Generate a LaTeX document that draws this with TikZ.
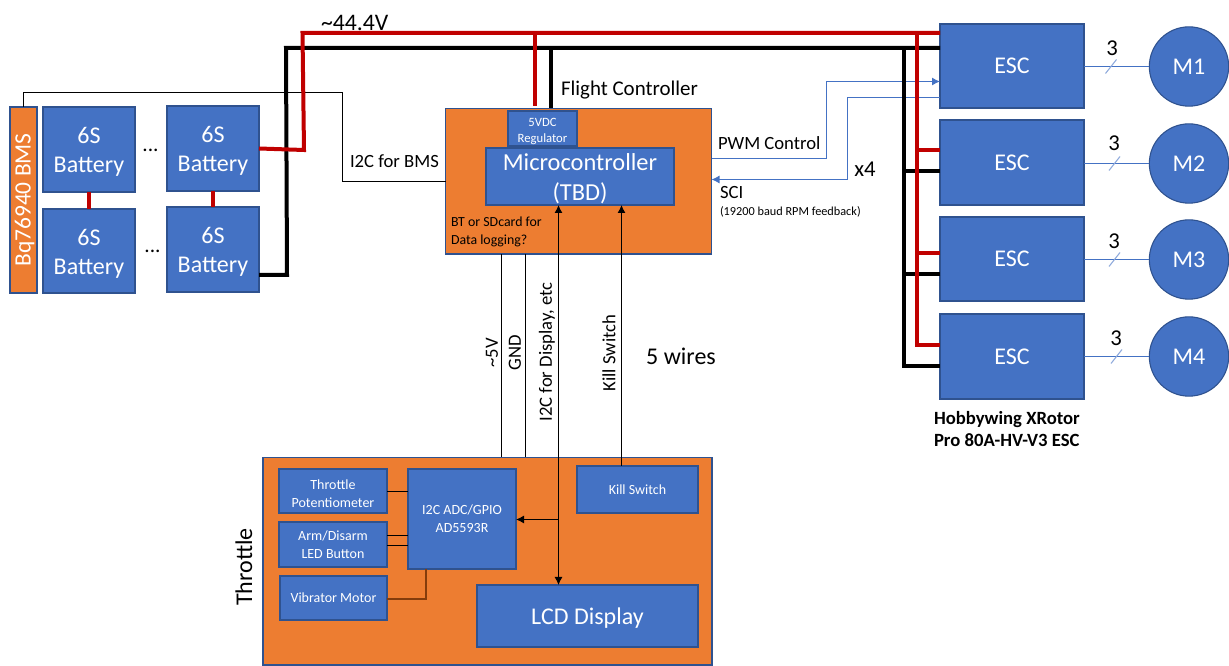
\documentclass[tikz,border=0pt]{standalone}
\usepackage{fontspec}
\setmainfont{Carlito}
\usetikzlibrary{arrows.meta,calc}
\definecolor{fillblue}{HTML}{4472C4}
\definecolor{edgeblue}{HTML}{2F528F}
\definecolor{fillorange}{HTML}{ED7D31}
\definecolor{wirered}{HTML}{C00000}
\definecolor{slashblue}{HTML}{8FAADC}
\definecolor{brownwire}{HTML}{843C0C}
\newcommand{\bx}[7][]{%
  \node[#2,#1,minimum width={(#5-#3)*0.75pt},minimum height={(#6-#4)*0.75pt}] (#7) at ({(#3+#5)/2},{(#4+#6)/2})}
\newcommand{\lw}[1]{\rule{0pt}{#1}}
\tikzset{
  bluebox/.style={draw=edgeblue,fill=fillblue,text=white,line width=0.8pt,inner sep=0pt,outer sep=0pt,align=center,font=\fontsize{18}{22}\selectfont},
  orangebox/.style={draw=edgeblue,fill=fillorange,line width=0.8pt,inner sep=0pt,outer sep=0pt,align=center},
  motor/.style={circle,draw=edgeblue,fill=fillblue,text=white,line width=0.8pt,inner sep=0pt,outer sep=0pt,minimum size=59.5pt,font=\fontsize{18}{22}\selectfont},
  smallbox/.style={font=\fontsize{10.5}{13.5}\selectfont},
  lbl/.style={inner sep=0pt,outer sep=0pt,align=left},
  power/.style={line width=3pt,line join=miter},
  redwire/.style={power,draw=wirered},
  blackwire/.style={power,draw=black},
  thinwire/.style={draw=black,line width=0.8pt},
  sigblue/.style={draw=fillblue,line width=0.8pt},
  tip/.style={-{Latex[length=6pt,width=6pt]}},
  bothtip/.style={{Latex[length=6pt,width=6pt]}-{Latex[length=6pt,width=6pt]}},
  slash/.style={draw=slashblue,line width=0.8pt},
}
\begin{document}
\begin{tikzpicture}[x=0.75pt,y=-0.75pt]
\useasboundingbox (0,0) rectangle (1229,666);
\fill[white] (0,0) rectangle (1229,666);

% containers
\bx{orangebox}{445.5}{108.5}{711.5}{254}{fc} {};
\bx{orangebox}{263}{457.5}{712}{665}{thr} {};
\bx{orangebox}{10}{107}{37}{293}{bms} {};
\node[rotate=90,text=white,inner sep=0pt,font=\fontsize{17.6}{21}\selectfont] (bmstxt) at (24.5,200) {Bq76940 BMS};

% batteries
\bx{bluebox}{43}{107}{135}{192}{b1} {\lw{16pt}6S\\Battery};
\bx{bluebox}{43}{209}{135}{293}{b2} {\lw{16pt}6S\\Battery};
\bx{bluebox}{167}{106}{259}{191}{b3} {\lw{16pt}6S\\Battery};
\bx{bluebox}{167}{207}{259}{292}{b4} {\lw{16pt}6S\\Battery};
\node[lbl,font=\fontsize{16}{19}\selectfont] (dots1) at (150.5,150) {...};
\node[lbl,font=\fontsize{16}{19}\selectfont] (dots2) at (152.5,251) {...};

% flight controller
\bx[smallbox,font=\fontsize{9.5}{11.5}\selectfont]{bluebox}{508}{111}{577}{146}{reg} {\lw{10.5pt}5VDC\\Regulator};
\bx[font=\fontsize{18.3}{22}\selectfont]{bluebox}{486}{148}{674}{205}{mcu} {\lw{16pt}Microcontroller\\(TBD)};
\node[lbl,anchor=west,font=\fontsize{10.4}{13.5}\selectfont] (bt) at (451,231.5) {BT or SDcard for\\Data logging?};

% ESC and motors
\bx{bluebox}{940}{24}{1084}{108}{e1} {ESC};
\bx{bluebox}{940}{120}{1084}{205}{e2} {ESC};
\bx{bluebox}{940}{217}{1084}{301}{e3} {ESC};
\bx{bluebox}{940}{314}{1084}{399}{e4} {ESC};
\node[motor] (m1) at (1189,66.5) {M1};
\node[motor] (m2) at (1189,163.5) {M2};
\node[motor] (m3) at (1189,259.5) {M3};
\node[motor] (m4) at (1189,356.5) {M4};

% throttle
\bx[smallbox]{bluebox}{279}{469}{387}{513}{pot} {\lw{11.5pt}Throttle\\Potentiometer};
\bx[smallbox]{bluebox}{279}{522}{387}{567}{arm} {Arm/Disarm\\LED Button};
\bx[smallbox]{bluebox}{280}{576}{387}{620}{vib} {Vibrator Motor};
\bx[smallbox]{bluebox}{408}{469}{516}{569}{adc} {I2C ADC/GPIO\\AD5593R};
\bx[smallbox]{bluebox}{577}{466}{698}{513}{kill} {Kill Switch};
\bx{bluebox}{477}{585}{698}{647}{lcd} {\lw{16pt}LCD Display};

% junction coordinates
\coordinate (i2cbmsA) at (23.5,92.5);
\coordinate (i2cbmsB) at (342.5,92.5);
\coordinate (i2cbmsC) at (342.5,181.5);
\coordinate (redA) at (304,150);
\coordinate (redB) at (302.5,33);
\coordinate (blkA) at (287,275);
\coordinate (blkB) at (286,48);
\coordinate (redbusT) at (917,33);
\coordinate (redbusB) at (917,345);
\coordinate (blkbusT) at (903.5,48);
\coordinate (blkbusB) at (903.5,366);
\coordinate (pwmA) at (826.5,158.5);
\coordinate (pwmB) at (826.5,81.5);
\coordinate (sciA) at (847.5,97.5);
\coordinate (sciB) at (847.5,179.5);
\coordinate (i2cj) at (558.5,519.5);

% thin signal wires
\draw[thinwire] (bms.north -| i2cbmsA) -- (i2cbmsA) -- (i2cbmsB) -- (i2cbmsC) -- (fc.west |- i2cbmsC);
\draw[thinwire] (501.5,254) -- (thr.north -| 501.5,0);
\draw[thinwire] (525.5,254) -- (thr.north -| 525.5,0);
\draw[thinwire,bothtip] (mcu.south -| i2cj) -- (lcd.north -| i2cj);
\draw[thinwire,tip] (i2cj) -- (adc.east |- i2cj);
\draw[thinwire,tip] (kill.north -| 621.5,0) -- (mcu.south -| 621.5,0);
\draw[thinwire] (pot.east |- 0,491.5) -- (adc.west |- 0,491.5);
\draw[thinwire] (arm.east |- 0,535.5) -- (adc.west |- 0,535.5);
\draw[thinwire] (arm.east |- 0,545.5) -- (adc.west |- 0,545.5);
\draw[draw=brownwire,line width=1.5pt] (vib.east |- 0,599) -| (adc.south -| 426,0);

% PWM / SCI
\draw[sigblue,tip] (fc.east |- pwmA) -- (pwmA) -- (pwmB) -- (e1.west |- pwmB);
\draw[sigblue,tip] (e1.west |- sciA) -- (sciA) -- (sciB) -- (fc.east |- sciB);

% motor wires
\foreach \i/\sx in {1/1111,2/1114.5,3/1114.5,4/1116.5}{
  \draw[sigblue] (e\i.east |- m\i.west) -- (m\i.west);
  \coordinate (s\i) at (\sx,0);
  \draw[slash] ($(s\i |- m\i.west)+(-5.5,7)$) -- ($(s\i |- m\i.west)+(5.5,-7)$);
}

% power: black then red
\draw[blackwire] (b4.east |- blkA) -- (blkA) -- (blkB) -- (e1.west |- blkB);
\draw[blackwire] (blkbusT) -- (blkbusB) -- (e4.west |- blkbusB);
\draw[blackwire] (e2.west |- 0,171.5) -- (blkbusT |- 0,171.5);
\draw[blackwire] (e3.west |- 0,274.5) -- (blkbusT |- 0,274.5);
\draw[blackwire] (551,48) -- (fc.north -| 551,0);
\draw[redwire] (b1.south) -- (b2.north);
\draw[redwire] (b3.south) -- (b4.north);
\draw[redwire] (b3.east) -- (redA) -- (redB) -- (e1.west |- redB);
\draw[redwire] (redbusT) -- (redbusB) -- (e4.west |- redbusB);
\draw[redwire] (e2.west |- 0,150.5) -- (redbusT |- 0,150.5);
\draw[redwire] (e3.west |- 0,253.5) -- (redbusT |- 0,253.5);
\draw[redwire] (535,33) -- (535,106);

% labels
\node[lbl,anchor=west,font=\fontsize{17.8}{21}\selectfont] (l44) at (321,23) {\textasciitilde 44.4V};
\node[lbl,anchor=west,font=\fontsize{15.7}{19}\selectfont] (lfc) at (561,90.5) {Flight Controller};
\node[lbl,anchor=west,font=\fontsize{14}{17}\selectfont] (li2c) at (350,161) {I2C for BMS};
\node[lbl,anchor=west,font=\fontsize{14}{17}\selectfont] (lpwm) at (718,143) {PWM Control};
\node[lbl,font=\fontsize{17}{20}\selectfont] (lx4) at (865,169) {x4};
\node[lbl,anchor=west,font=\fontsize{14}{17}\selectfont] (lsci) at (720,193) {SCI};
\node[lbl,anchor=west,font=\fontsize{9.2}{11}\selectfont] (lbaud) at (720,212) {(19200 baud RPM feedback)};
\node[lbl,font=\fontsize{17}{20}\selectfont] (t1) at (1112,48) {3};
\node[lbl,font=\fontsize{17}{20}\selectfont] (t2) at (1114,143) {3};
\node[lbl,font=\fontsize{17}{20}\selectfont] (t3) at (1114,241) {3};
\node[lbl,font=\fontsize{17}{20}\selectfont] (t4) at (1116,338) {3};
\node[lbl,anchor=west,font=\bfseries\fontsize{14}{17.2}\selectfont] (lhob) at (934,429) {Hobbywing XRotor\\Pro 80A-HV-V3 ESC};
\node[lbl,rotate=90,font=\fontsize{14}{17}\selectfont] (l5v) at (492,353) {\textasciitilde 5V};
\node[lbl,rotate=90,font=\fontsize{14}{17}\selectfont] (lgnd) at (515,353) {GND};
\node[lbl,rotate=90,font=\fontsize{14}{17}\selectfont] (ldisp) at (547,352) {I2C for Display, etc};
\node[lbl,rotate=90,font=\fontsize{14}{17}\selectfont] (lkill) at (609,353) {Kill Switch};
\node[lbl,font=\fontsize{18}{21}\selectfont] (l5w) at (681,356) {5 wires};
\node[lbl,rotate=90,font=\fontsize{18}{22}\selectfont] (lthr) at (244,567) {Throttle};
\end{tikzpicture}
\end{document}
